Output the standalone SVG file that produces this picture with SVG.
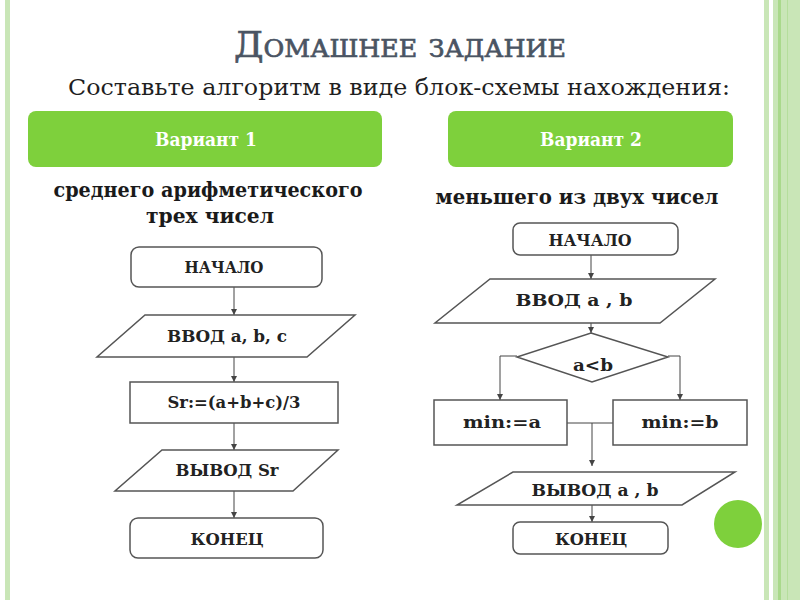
<svg xmlns="http://www.w3.org/2000/svg" width="800" height="600" viewBox="0 0 800 600">
<style>
.box{fill:#fff;stroke:#555;stroke-width:1.5}
.lbl{font-family:"DejaVu Serif","Liberation Serif",serif;font-weight:bold;font-size:16px;fill:#222;text-anchor:middle}
.hdr{fill:#7ed03c}
.hdrt{font-family:"DejaVu Serif","Liberation Serif",serif;font-weight:bold;font-size:19px;fill:#fff;text-anchor:middle}
.sub{font-family:"DejaVu Serif","Liberation Serif",serif;font-weight:bold;font-size:21px;fill:#1a1a1a;text-anchor:middle}
.ttl{font-family:"DejaVu Serif","Liberation Serif",serif;font-size:36px;fill:#4a5463;stroke:#4a5463;stroke-width:0.7;text-anchor:middle;font-variant:small-caps}
.st{font-family:"DejaVu Serif","Liberation Serif",serif;font-size:23px;fill:#1f1f1f;text-anchor:middle}
.con{fill:none;stroke:#444;stroke-width:1}
.stripe{fill:#c9e6b7}
</style>
<defs>
<marker id="arr" markerUnits="userSpaceOnUse" markerWidth="7" markerHeight="7" refX="6" refY="3.5" orient="auto">
<path d="M0,0.5 L6,3.5 L0,6.5 z" fill="#444"/>
</marker>
</defs>
<rect x="0" y="0" width="800" height="600" fill="#fff"/>
<g id="border">
<rect class="stripe" x="5" y="0" width="5" height="600"/>
<rect class="stripe" x="764" y="0" width="5" height="600"/>
<rect class="stripe" x="773" y="0" width="27" height="600"/>
<rect x="778" y="0" width="3" height="600" fill="#a9d98b"/>
<rect x="787" y="0" width="1" height="600" fill="#b5de9c"/>
<circle cx="738" cy="524" r="24" fill="#7ed03c"/>
</g>
<g id="title">
<text class="ttl" x="400" y="57" textLength="332" lengthAdjust="spacingAndGlyphs">Домашнее задание</text>
<text class="st" x="399" y="95" textLength="662" lengthAdjust="spacingAndGlyphs">Составьте алгоритм в виде блок-схемы нахождения:</text>
</g>
<g id="variant1">
<rect class="hdr" x="28" y="111" width="354" height="56" rx="8"/>
<text class="hdrt" x="206" y="146" textLength="102" lengthAdjust="spacingAndGlyphs">Вариант 1</text>
</g>
<g id="variant2">
<rect class="hdr" x="448" y="111" width="285" height="56" rx="8"/>
<text class="hdrt" x="591" y="146" textLength="102" lengthAdjust="spacingAndGlyphs">Вариант 2</text>
</g>
<g id="task1">
<text class="sub" x="208" y="197" textLength="309" lengthAdjust="spacingAndGlyphs">среднего арифметического</text>
<text class="sub" x="210" y="223" textLength="128" lengthAdjust="spacingAndGlyphs">трех чисел</text>
</g>
<g id="task2">
<text class="sub" x="577" y="204" textLength="283" lengthAdjust="spacingAndGlyphs">меньшего из двух чисел</text>
</g>
<g id="connectors">
<path class="con" d="M234,287 V315" marker-end="url(#arr)"/>
<path class="con" d="M234,357 V382" marker-end="url(#arr)"/>
<path class="con" d="M234,423 V450" marker-end="url(#arr)"/>
<path class="con" d="M234,491 V518" marker-end="url(#arr)"/>
<path class="con" d="M591,255 V279" marker-end="url(#arr)"/>
<path class="con" d="M591,323 V333" marker-end="url(#arr)"/>
<path class="con" d="M517,356 H500 V400" marker-end="url(#arr)"/>
<path class="con" d="M668,356 H680 V400" marker-end="url(#arr)"/>
<path class="con" d="M567,423 H613"/>
<path class="con" d="M592,423 V466" marker-end="url(#arr)"/>
<path class="con" d="M592,505 V522" marker-end="url(#arr)"/>
</g>
<g id="start1">
<rect class="box" x="131" y="247" width="191" height="40" rx="8"/>
<text class="lbl" x="224" y="273" textLength="79" lengthAdjust="spacingAndGlyphs">НАЧАЛО</text>
</g>
<g id="input1">
<polygon class="box" points="145,315 355,315 307,357 97,357"/>
<text class="lbl" x="227" y="342" textLength="120" lengthAdjust="spacingAndGlyphs">ВВОД a, b, c</text>
</g>
<g id="calc1">
<rect class="box" x="130" y="382" width="208" height="41"/>
<text class="lbl" x="234" y="408" textLength="133" lengthAdjust="spacingAndGlyphs">Sr:=(a+b+c)/3</text>
</g>
<g id="output1">
<polygon class="box" points="162,450 338,450 293,491 115,491"/>
<text class="lbl" x="227" y="476" textLength="103" lengthAdjust="spacingAndGlyphs">ВЫВОД Sr</text>
</g>
<g id="end1">
<rect class="box" x="130" y="518" width="193" height="40" rx="8"/>
<text class="lbl" x="227" y="545" textLength="73" lengthAdjust="spacingAndGlyphs">КОНЕЦ</text>
</g>
<g id="start2">
<rect class="box" x="513" y="223" width="165" height="32" rx="7"/>
<text class="lbl" x="590" y="246" textLength="83" lengthAdjust="spacingAndGlyphs">НАЧАЛО</text>
</g>
<g id="input2">
<polygon class="box" points="490,279 715,279 660,323 435,323"/>
<text class="lbl" x="574" y="306" font-size="19" textLength="117" lengthAdjust="spacingAndGlyphs">ВВОД  a , b</text>
</g>
<g id="cond2">
<polygon class="box" points="591,333 668,357 592,382 517,357"/>
<text class="lbl" x="593" y="371" font-size="19" textLength="40" lengthAdjust="spacingAndGlyphs">a&lt;b</text>
</g>
<g id="mina">
<rect class="box" x="434" y="400" width="133" height="45"/>
<text class="lbl" x="502" y="428" font-size="19" textLength="78" lengthAdjust="spacingAndGlyphs">min:=a</text>
</g>
<g id="minb">
<rect class="box" x="613" y="400" width="134" height="45"/>
<text class="lbl" x="680" y="428" font-size="19" textLength="77" lengthAdjust="spacingAndGlyphs">min:=b</text>
</g>
<g id="output2">
<polygon class="box" points="513,472 735,472 682,505 457,505"/>
<text class="lbl" x="595" y="496" textLength="127" lengthAdjust="spacingAndGlyphs">ВЫВОД  a , b</text>
</g>
<g id="end2">
<rect class="box" x="513" y="522" width="155" height="32" rx="7"/>
<text class="lbl" x="591" y="545" textLength="72" lengthAdjust="spacingAndGlyphs">КОНЕЦ</text>
</g>
</svg>
